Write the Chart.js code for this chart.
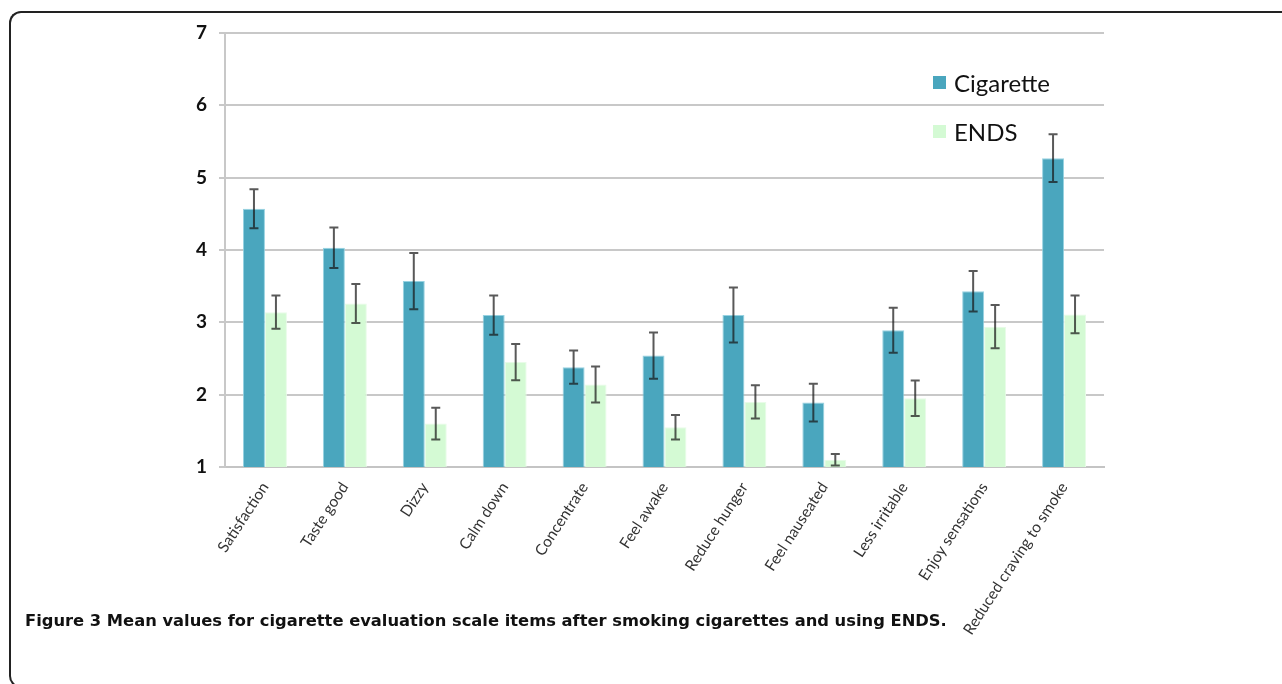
<!DOCTYPE html>
<html>
<head>
<meta charset="utf-8">
<script src="https://cdn.jsdelivr.net/npm/chart.js@4"></script>
<style>
  html, body { margin: 0; padding: 0; background: #fff; }
  body { width: 1282px; height: 684px; position: relative; overflow: hidden; }
  #frame { position: absolute; left: 9px; top: 11px; width: 1400px; height: 677px;
           border-top: 2px solid #222; border-left: 2px solid #222; border-bottom: 2px solid #222;
           border-radius: 12px 0 0 12px; box-sizing: border-box; }
  #wrap { position: absolute; left: 0; top: 0; width: 1282px; height: 684px; }
  #caption { position: absolute; left: 25px; top: 611px; font-family: "DejaVu Sans", sans-serif;
             font-weight: 700; font-size: 14.5px; line-height: 20px; color: #111; white-space: nowrap; }
</style>
</head>
<body>
<div id="frame"></div>
<div id="wrap"><canvas id="c" width="1282" height="684"></canvas></div>
<div id="caption"><span id="capText"><b>Figure 3</b> Mean values for cigarette evaluation scale items after smoking cigarettes and using ENDS.</span></div>
<script>
const categories = ["Satisfaction", "Taste good", "Dizzy", "Calm down", "Concentrate", "Feel awake",
  "Reduce hunger", "Feel nauseated", "Less irritable", "Enjoy sensations", "Reduced craving to smoke"];
const cigaretteMeans = [4.57, 4.03, 3.57, 3.10, 2.38, 2.54, 3.10, 1.89, 2.89, 3.43, 5.27];
const cigaretteErr   = [0.27, 0.28, 0.39, 0.27, 0.23, 0.32, 0.38, 0.26, 0.31, 0.28, 0.33];
const endsMeans      = [3.14, 3.26, 1.60, 2.45, 2.14, 1.55, 1.90, 1.10, 1.95, 2.94, 3.11];
const endsErr        = [0.23, 0.27, 0.22, 0.25, 0.25, 0.17, 0.23, 0.08, 0.245, 0.30, 0.26];
const yTicks = [1, 2, 3, 4, 5, 6, 7];
const seriesNames = ["Cigarette", "ENDS"];
const seriesColors = ["#4aa6be", "#d4fad4"];
const errs = [cigaretteErr, endsErr];

// fit caption to reference width
(function () {
  const span = document.getElementById('capText');
  const cap = document.getElementById('caption');
  const w = span.getBoundingClientRect().width;
  if (w > 0) cap.style.fontSize = (14.5 * 922 / w).toFixed(2) + 'px';
})();

const errorBars = {
  id: 'errorBars',
  afterDatasetsDraw(chart) {
    const ctx = chart.ctx, y = chart.scales.y;
    ctx.save();
    ctx.strokeStyle = 'rgba(25,25,25,0.72)';
    ctx.lineWidth = 2;
    chart.data.datasets.forEach((ds, di) => {
      const meta = chart.getDatasetMeta(di);
      meta.data.forEach((bar, i) => {
        const v = ds.data[i], e = errs[di][i];
        const yt = y.getPixelForValue(v + e), yb = y.getPixelForValue(v - e);
        const x = bar.x, cw = 4.5;
        ctx.beginPath();
        ctx.moveTo(x, yt); ctx.lineTo(x, yb);
        ctx.moveTo(x - cw, yt); ctx.lineTo(x + cw, yt);
        ctx.moveTo(x - cw, yb); ctx.lineTo(x + cw, yb);
        ctx.stroke();
      });
    });
    ctx.restore();
  }
};

const customLegend = {
  id: 'customLegend',
  afterDraw(chart) {
    const ctx = chart.ctx, a = chart.chartArea;
    ctx.save();
    ctx.font = '24px Lato, sans-serif';
    ctx.textBaseline = 'middle';
    seriesNames.forEach((name, i) => {
      const cy = a.top + 50 + i * 49;
      ctx.fillStyle = seriesColors[i];
      ctx.fillRect(a.right - 171, cy - 7, 13, 13);
      ctx.fillStyle = '#111';
      ctx.fillText(name, a.right - 150, cy + 1);
    });
    ctx.restore();
  }
};

new Chart(document.getElementById('c'), {
  type: 'bar',
  data: {
    labels: categories,
    datasets: [
      { label: seriesNames[0], data: cigaretteMeans, backgroundColor: seriesColors[0],
        borderColor: 'rgba(140,205,222,0.9)', borderWidth: 1, borderSkipped: 'bottom' },
      { label: seriesNames[1], data: endsMeans, backgroundColor: seriesColors[1],
        borderColor: 'rgba(232,252,232,1)', borderWidth: 1, borderSkipped: 'bottom' }
    ]
  },
  options: {
    responsive: false,
    animation: false,
    layout: { padding: { left: 0, top: 33, right: 178, bottom: 0 } },
    datasets: { bar: { categoryPercentage: 0.55, barPercentage: 1.0 } },
    plugins: { legend: { display: false }, tooltip: { enabled: false } },
    scales: {
      x: {
        grid: { display: false },
        border: { display: true, color: '#c4c4c4', width: 2 },
        ticks: { minRotation: 57, maxRotation: 57, padding: 4, color: '#333',
                 font: { family: 'Lato', size: 15.5 } },
        afterFit(s) { s.height = 217; }
      },
      y: {
        min: 1, max: 7,
        afterBuildTicks(s) { s.ticks = yTicks.map(v => ({ value: v })); },
        grid: { color: '#c8c8c8', lineWidth: 2, tickLength: 6 },
        border: { display: true, color: '#c8c8c8', width: 2 },
        ticks: { padding: 12, color: '#111', font: { family: 'Lato', size: 19, weight: 'bold' } },
        afterFit(s) { s.width = 225; }
      }
    }
  },
  plugins: [errorBars, customLegend]
});
</script>
</body>
</html>
